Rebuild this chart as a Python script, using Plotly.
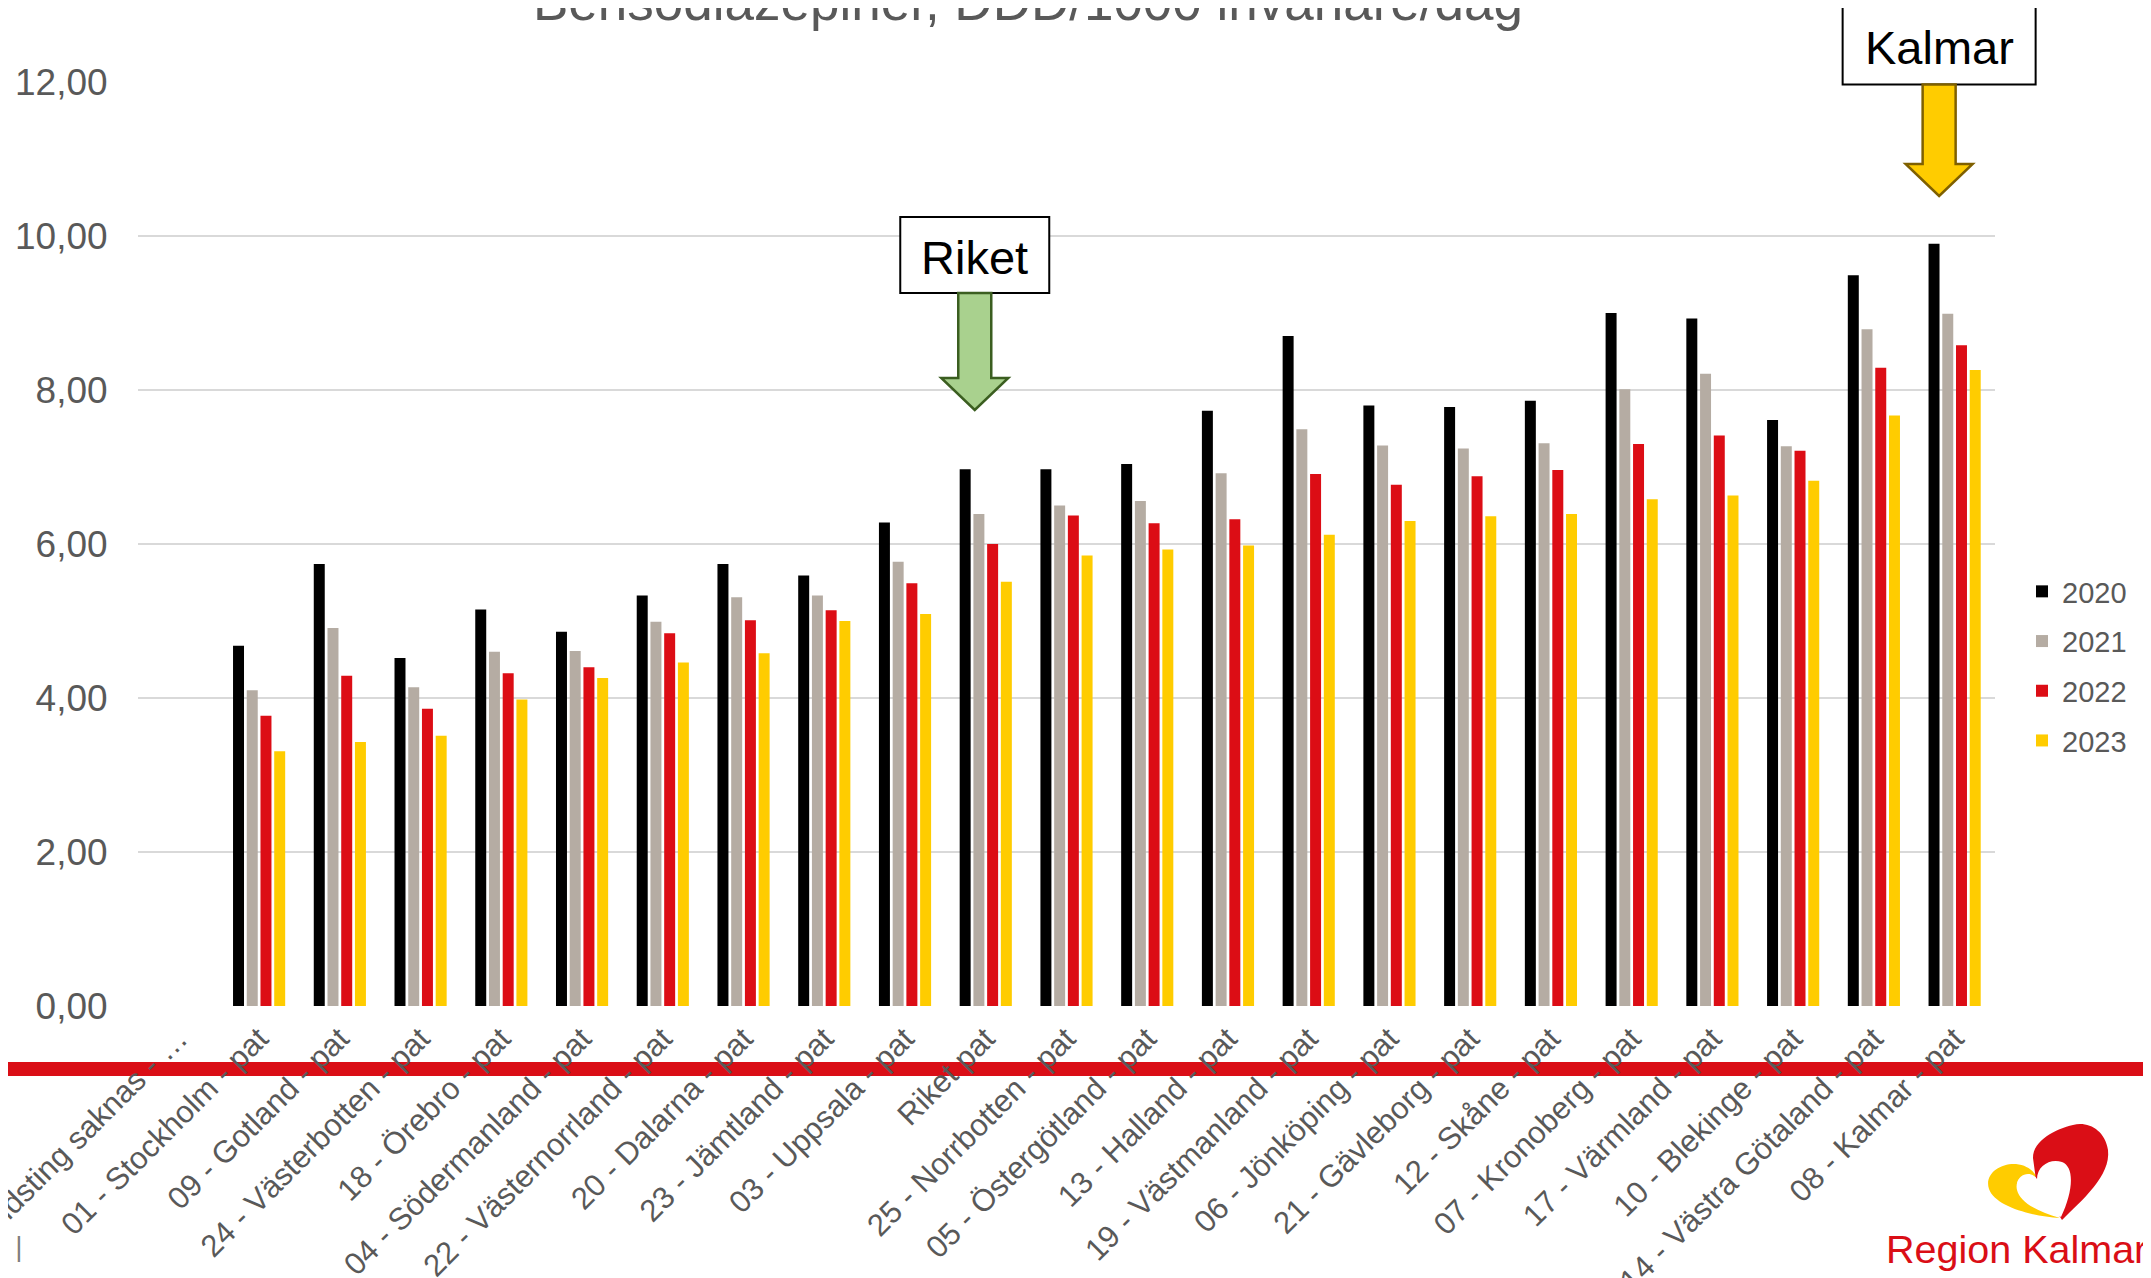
import plotly.graph_objects as go

# ---------------- data ----------------
categories = [
    "00 - Landsting saknas - …", "01 - Stockholm - pat", "09 - Gotland - pat",
    "24 - Västerbotten - pat", "18 - Örebro - pat", "04 - Södermanland - pat",
    "22 - Västernorrland - pat", "20 - Dalarna - pat", "23 - Jämtland - pat",
    "03 - Uppsala - pat", "Riket pat", "25 - Norrbotten - pat",
    "05 - Östergötland - pat", "13 - Halland - pat", "19 - Västmanland - pat",
    "06 - Jönköping - pat", "21 - Gävleborg - pat", "12 - Skåne - pat",
    "07 - Kronoberg - pat", "17 - Värmland - pat", "10 - Blekinge - pat",
    "14 - Västra Götaland - pat", "08 - Kalmar - pat",
]
years = ["2020", "2021", "2022", "2023"]
v2020 = [None, 4.68, 5.74, 4.52, 5.15, 4.86, 5.33, 5.74, 5.59, 6.28, 6.97, 6.97,
         7.04, 7.73, 8.70, 7.80, 7.78, 7.86, 9.00, 8.93, 7.61, 9.49, 9.90]
v2021 = [None, 4.10, 4.91, 4.14, 4.60, 4.61, 4.99, 5.31, 5.33, 5.77, 6.39, 6.50,
         6.56, 6.92, 7.49, 7.28, 7.24, 7.31, 8.01, 8.21, 7.27, 8.79, 8.99]
v2022 = [None, 3.77, 4.29, 3.86, 4.32, 4.40, 4.84, 5.01, 5.14, 5.49, 6.00, 6.37,
         6.27, 6.32, 6.91, 6.77, 6.88, 6.96, 7.30, 7.41, 7.21, 8.29, 8.58]
v2023 = [None, 3.31, 3.43, 3.51, 3.98, 4.26, 4.46, 4.58, 5.00, 5.09, 5.51, 5.85,
         5.93, 5.98, 6.12, 6.30, 6.36, 6.39, 6.58, 6.63, 6.82, 7.67, 8.26]
series = [v2020, v2021, v2022, v2023]
ytick_vals = [0, 2, 4, 6, 8, 10, 12]
title_text = "Bensodiazepiner, DDD/1000 invånare/dag"

# ---------------- styling ----------------
colors = ["#000000", "#B5ACA3", "#DC0D15", "#FFCC00"]
FONT = "Liberation Sans, Arial, sans-serif"
GREY_TXT = "#595959"

OFF = 8                      # page body margin: figure starts 8px in
W, H = 2151, 1278            # figure size
# plot area in page pixels: x 138..1995, y 82..1006
PL, PR, PT, PB = 138, 1995, 82, 1006
L, T = PL - OFF, PT - OFF
R = W - (PR - OFF)
B = H - (PB - OFF)
PW, PH = W - L - R, H - T - B


def fx(px):
    """page pixel x -> paper"""
    return (px - OFF - L) / PW


def fy(py):
    """page pixel y -> paper"""
    return (H - B - (py - OFF)) / PH


def cat_px(label):
    i = categories.index(label)
    return PL + (i + 0.5) * (PR - PL) / len(categories)


fig = go.Figure()
for name, vals, col in zip(years, series, colors):
    fig.add_trace(go.Bar(
        name=name, x=categories, y=vals, marker_color=col,
        marker_line_width=0, legendgroup=name,
    ))

shapes = []
annotations = []


def callout(label, text, dx, box_w, box_top, box_bot, shaft_bot, tip, fill, edge):
    cx = cat_px(label) + dx
    shapes.append(dict(type="rect", xref="paper", yref="paper",
                       x0=fx(cx - box_w / 2), x1=fx(cx + box_w / 2),
                       y0=fy(box_bot), y1=fy(box_top),
                       fillcolor="white", line=dict(color="black", width=2),
                       layer="above"))
    annotations.append(dict(xref="paper", yref="paper", x=fx(cx),
                            y=fy((box_top + box_bot) / 2 + 2), text=text,
                            showarrow=False, xanchor="center", yanchor="middle",
                            font=dict(family=FONT, size=47, color="black")))
    sw, hw = 16.5, 33.5
    pts = [(cx - sw, box_bot), (cx + sw, box_bot), (cx + sw, shaft_bot),
           (cx + hw, shaft_bot), (cx, tip), (cx - hw, shaft_bot), (cx - sw, shaft_bot)]
    path = "M " + " L ".join(f"{fx(a):.5f},{fy(b):.5f}" for a, b in pts) + " Z"
    shapes.append(dict(type="path", xref="paper", yref="paper", path=path,
                       fillcolor=fill, line=dict(color=edge, width=2.5),
                       layer="above"))


callout("Riket pat", "Riket", -11, 149, 217, 293, 378, 410, "#A9D18E", "#3B5E20")
callout("08 - Kalmar - pat", "Kalmar", -15.5, 193, 6.5, 84.5, 164, 196, "#FFCC00", "#7F6000")

# red decorative band (behind the tick labels)
shapes.append(dict(type="rect", xref="paper", yref="paper",
                   x0=fx(0), x1=fx(W + OFF), y0=fy(1076), y1=fy(1062),
                   fillcolor="#DA0E16", line=dict(width=0), layer="below"))

# Region Kalmar logo (heart)
ox, oy = 1970, 1100


def lpath(pts_cmds):
    out = []
    for cmd in pts_cmds:
        if isinstance(cmd, str):
            out.append(cmd)
        else:
            out.append(f"{fx(ox + cmd[0]):.5f},{fy(oy + cmd[1]):.5f}")
    return " ".join(out)


yellow_path = lpath(["M", (90, 118), "C", (60, 116), (25, 106), (19, 89),
                     "C", (14, 74), (30, 63), (46, 64),
                     "C", (56, 65), (63, 70), (67, 77),
                     "L", (58, 76), "C", (50, 76), (45, 82), (47, 90),
                     "C", (50, 102), (66, 111), (90, 118), "Z"])
red_path = lpath(["M", (92, 120), "C", (112, 100), (141, 76), (138, 50),
                  "C", (135, 30), (118, 21), (103, 25),
                  "C", (86, 29), (63, 40), (63, 58),
                  "L", (66, 80), "L", (82, 104), "Z"])
white_path = lpath(["M", (91, 117), "C", (72, 106), (46, 96), (47, 84),
                    "C", (48, 74), (61, 70), (67, 79),
                    "C", (67, 66), (80, 58), (92, 62),
                    "C", (105, 67), (103, 92), (91, 117), "Z"])
for p, c in [(yellow_path, "#FFCC00"), (red_path, "#DA0E16"), (white_path, "white")]:
    shapes.append(dict(type="path", xref="paper", yref="paper", path=p,
                       fillcolor=c, line=dict(width=0), layer="above"))

annotations.append(dict(xref="paper", yref="paper", x=fx(1884), y=fy(1263 - 14),
                        text="Region Kalmar", showarrow=False, xanchor="left",
                        yanchor="middle",
                        font=dict(family=FONT, size=39.5, color="#DA0E16")))

# title (partly cut at top)
annotations.append(dict(xref="paper", yref="paper", x=fx(1028), y=fy(1),
                        text=title_text, showarrow=False, xanchor="center",
                        yanchor="middle",
                        font=dict(family=FONT, size=53, color=GREY_TXT)))

# cropped footer fragment at bottom-left
annotations.append(dict(xref="paper", yref="paper", x=fx(25), y=fy(1246),
                        text="e |", showarrow=False, xanchor="right",
                        yanchor="middle",
                        font=dict(family=FONT, size=28, color="#7F7F7F")))

fig.update_layout(
    width=W, height=H,
    template="none",
    paper_bgcolor="white", plot_bgcolor="white",
    margin=dict(l=L, r=R, t=T, b=B, pad=0),
    separators=", ",
    barmode="group", bargap=0.32, bargroupgap=0.2,
    font=dict(family=FONT, color=GREY_TXT),
    showlegend=True,
    legend=dict(x=fx(2022), y=fy(566), xanchor="left", yanchor="top",
                font=dict(family=FONT, size=29, color=GREY_TXT),
                tracegroupgap=9, bgcolor="rgba(0,0,0,0)",
                itemclick=False),
    xaxis=dict(type="category", range=[-0.5, len(categories) - 0.5],
               showgrid=False, zeroline=False, showline=False,
               tickangle=-45, ticks="outside", ticklen=1,
               tickcolor="rgba(0,0,0,0)",
               tickfont=dict(family=FONT, size=31, color=GREY_TXT),
               automargin=False),
    yaxis=dict(range=[0, 12], tickvals=ytick_vals, tickformat=".2f",
               showgrid=True, gridcolor="#D9D9D9", gridwidth=2,
               zeroline=False, showline=False,
               ticks="outside", ticklen=22, tickcolor="rgba(0,0,0,0)",
               tickfont=dict(family=FONT, size=37, color=GREY_TXT),
               automargin=False),
    shapes=shapes,
    annotations=annotations,
)

fig.write_html("out.html")
